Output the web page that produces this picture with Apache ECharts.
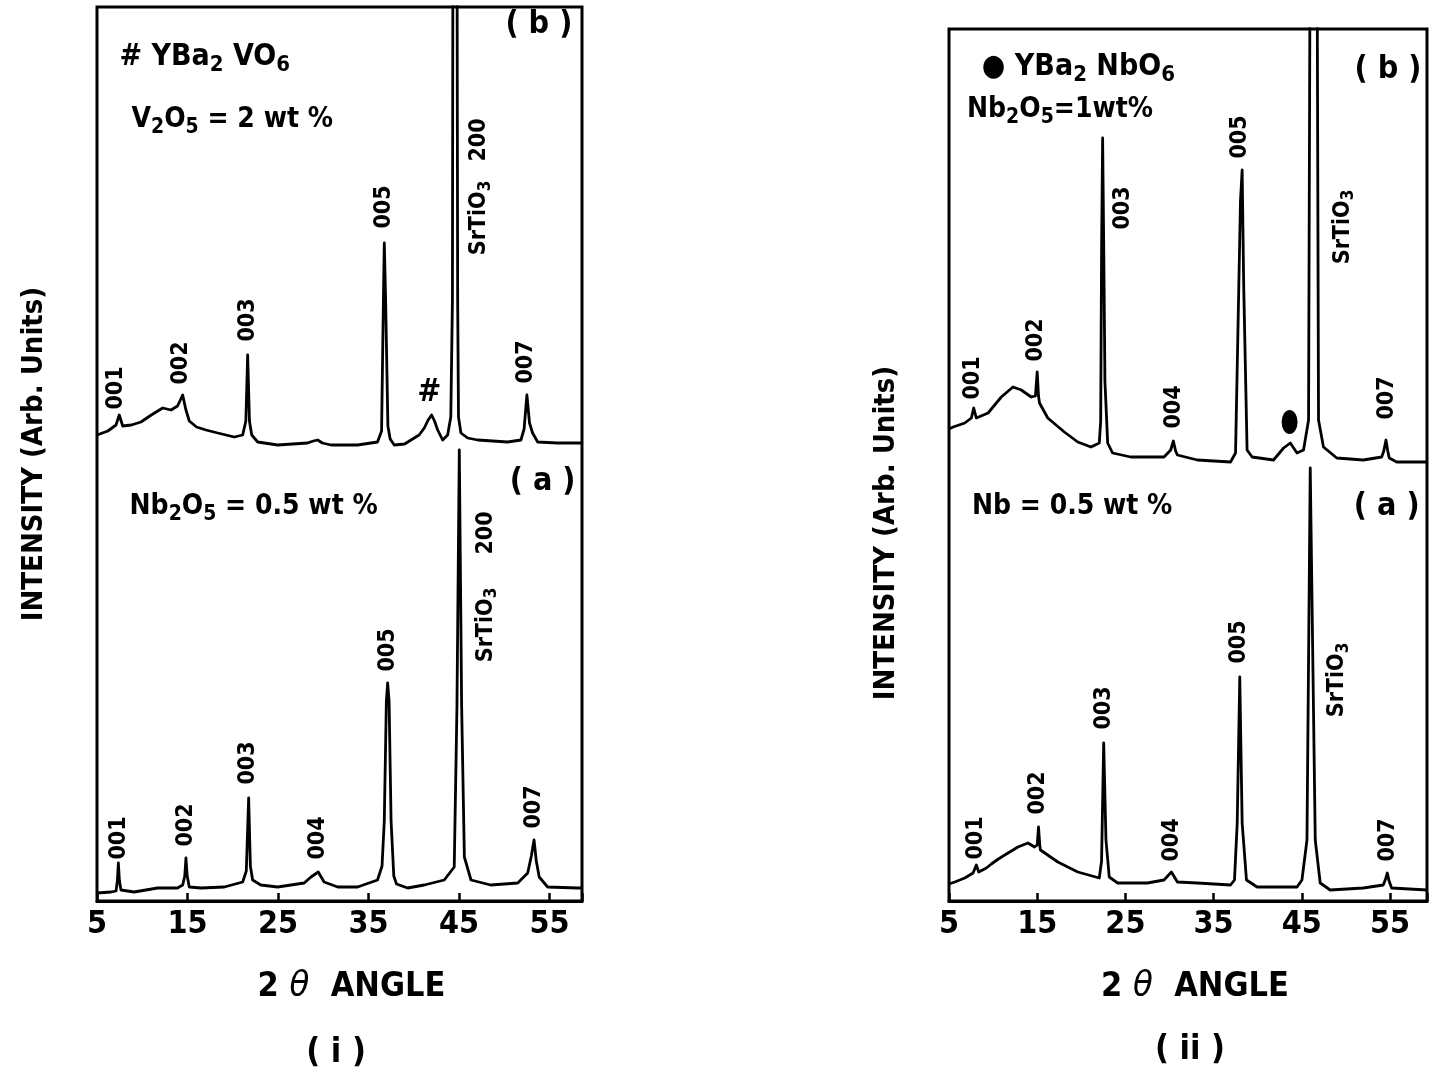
<!DOCTYPE html>
<html><head><meta charset="utf-8">
<script src="https://cdn.jsdelivr.net/npm/echarts@6/dist/echarts.min.js"></script>
<style>html,body{margin:0;padding:0;background:#fff}#c{width:1430px;height:1071px}</style>
</head><body><div id="c"></div>
<script>
const FONT = "'Liberation Sans Narrow','DejaVu Sans Condensed','Roboto Condensed','DejaVu Sans',sans-serif";

// ---------- axes ----------
const xTickValues = [5, 15, 25, 35, 45, 55];
const leftXRange = [5, 58.6];
const rightXRange = [5, 59.2];
const leftYMax = 894;
const rightYMax = 872;

// ---------- panel (i): trace (b) V2O5 = 2 wt % (offset upward) ----------
const leftTraceB = [
  [5.0,466],[6.2,470],[7.1,476],[7.46,486],[7.84,475],[8.8,476],[9.86,479],[11.0,486],[12.26,493],
  [13.18,491],[13.9,495],[14.47,506],[14.8,492],[15.2,480],[16.0,474],[17.04,471],[18.34,468],
  [20.17,464],[21.1,466],[21.45,480],[21.65,546],[21.85,480],[22.1,466],[22.76,459],[24.97,456],
  [28.28,458],[28.9,460],[29.39,461],[29.9,458],[30.86,456],[33.8,456],[36.0,459],[36.45,470],
  [36.65,600],[36.75,658],[36.9,600],[37.15,475],[37.4,462],[37.85,456],[39.0,457],[39.7,461],
  [40.6,466],[41.17,473],[41.6,481],[41.98,486],[42.3,480],[42.65,471],[43.2,461],[43.75,466],
  [44.1,484],[44.28,600],[44.34,1000],[44.78,1000],[44.86,600],[44.95,484],[45.22,468],[45.96,463],
  [47.07,461],[50.38,459],[51.85,461],[52.2,472],[52.51,506],[52.8,478],[53.14,468],[53.7,459],
  [55.9,458],[58.6,458]
];
// ---------- panel (i): trace (a) Nb2O5 = 0.5 wt % ----------
const leftTraceA = [
  [5.0,8],[6.55,9],[7.1,10],[7.25,20],[7.36,38],[7.48,20],[7.65,11],[9.1,9],[11.7,13],[13.9,13],
  [14.47,16],[14.7,25],[14.83,43],[14.97,25],[15.2,14],[16.5,13],[19.07,14],[21.1,19],[21.5,30],
  [21.76,103],[21.95,35],[22.2,21],[23.1,16],[24.97,14],[27.9,18],[28.65,24],[29.45,29],[30.1,19],
  [31.6,14],[33.8,14],[36.0,21],[36.5,35],[36.75,80],[36.98,200],[37.12,218],[37.28,200],[37.5,80],
  [37.8,25],[38.1,17],[39.33,13],[41.17,16],[43.38,21],[44.48,34],[44.78,194],[45.04,451],[45.3,194],
  [45.6,44],[46.33,21],[48.5,16],[51.5,18],[52.6,28],[53.0,45],[53.3,61],[53.55,40],[53.87,24],
  [54.8,14],[58.1,13],[58.6,13]
];

// ---------- panel (ii): trace (b) Nb2O5 = 1 wt % ----------
const rightTraceB = [
  [5.0,472],[5.47,474],[6.79,478],[7.54,483],[7.8,493],[8.1,483],[9.43,488],[10.93,504],[12.25,514],
  [13.2,511],[14.32,504],[14.8,505],[15.0,529],[15.15,505],[15.26,498],[16.2,483],[18.08,469],
  [19.6,459],[21.1,454],[22.04,458],[22.2,480],[22.3,650],[22.42,763],[22.55,650],[22.68,520],
  [22.99,458],[23.55,448],[25.6,444],[29.38,444],[30.14,451],[30.44,460],[30.7,450],[30.9,446],
  [33.16,441],[36.92,439],[37.49,448],[37.86,614],[38.05,700],[38.24,731],[38.42,614],[38.8,451],
  [39.37,444],[41.8,441],[42.94,453],[43.7,458],[44.46,448],[45.2,451],[45.77,481],[45.96,1000],
  [46.72,1000],[46.9,481],[47.46,454],[48.97,443],[51.98,441],[54.06,444],[54.3,450],[54.55,461],
  [54.75,450],[54.92,443],[55.76,439],[59.2,439]
];
// ---------- panel (ii): trace (a) Nb = 0.5 wt % ----------
const rightTraceA = [
  [5.0,17],[5.66,19],[6.79,23],[7.73,28],[8.1,36],[8.37,29],[9.24,33],[9.8,37],[10.6,42],[11.69,48],
  [12.82,54],[13.95,58],[14.7,54],[15.0,56],[15.15,74],[15.3,55],[15.37,51],[17.34,39],[19.6,29],
  [22.04,23],[22.3,40],[22.54,158],[22.8,61],[23.17,24],[24.12,18],[27.5,18],[29.38,21],[30.22,29],
  [30.9,19],[33.16,18],[36.92,16],[37.37,21],[37.68,78],[37.97,224],[38.24,78],[38.73,21],[39.94,14],
  [44.46,14],[45.02,21],[45.59,61],[45.96,433],[46.53,61],[47.09,18],[48.22,11],[51.98,13],
  [54.24,16],[54.5,22],[54.7,28],[54.9,20],[55.19,13],[59.2,11]
];

// ---------- annotations: [text, 2theta, intensity] ----------
const leftPeakLabels = [
  ['001',7.1,513],['002',14.28,538],['003',21.65,581],['005',36.75,694],['200',47.24,761],
  ['SrTiO_3',47.24,683],['007',52.4,539],
  ['001',7.46,63],['002',14.83,76],['003',21.65,138],['004',29.39,63],['005',37.12,251],
  ['200',47.98,368],['SrTiO_3',47.98,276],['007',53.32,94]
];
const leftCenterTexts = [['#',41.72,508],['( b )',53.84,876],['( a )',54.25,419]];
const leftHeadTexts = [['# YBa_2 VO_6',7.43,844]];
const leftFormulaTexts = [['V_2O_5 = 2 wt %',8.76,781],['Nb_2O_5 = 0.5 wt %',8.54,394]];

const rightPeakLabels = [
  ['001',7.73,523],['002',14.89,561],['003',24.68,693],['004',30.51,494],['005',38.05,764],
  ['SrTiO_3',49.66,674],['007',54.63,503],
  ['001',8.1,63],['002',15.08,108],['003',22.6,193],['004',30.33,61],['005',37.86,259],
  ['SrTiO_3',49.05,221],['007',54.8,61]
];
const rightCenterTexts = [['( b )',54.77,831],['( a )',54.63,394]];
const rightHeadTexts = [['● YBa_2 NbO_6',8.67,834]];
const rightFormulaTexts = [['Nb_2O_5=1wt%',6.98,791],['Nb = 0.5 wt %',7.54,394]];
const rightPhaseMarker = [[43.62,479]];

// ---------- helpers ----------
function rich(t){ return '{m|' + t.replace(/_(\d)/g, '}{s|$1}{m|') + '}'; }
function richStyles(main, sub, drop){
  return {
    m:{fontSize:main, fontWeight:'bold', fontFamily:FONT, color:'#000'},
    s:{fontSize:sub, fontWeight:'bold', fontFamily:FONT, color:'#000', padding:[drop,0,0,0]}
  };
}
function labelSeries(arr, axis, opts){
  return {
    type:'scatter', xAxisIndex:axis, yAxisIndex:axis, silent:true, z:5,
    symbolSize:1, itemStyle:{color:'rgba(255,255,255,0)', opacity:1},
    data: arr.map(a => ({value:[a[1], a[2]], name:a[0]})),
    label: Object.assign({show:true, color:'#000', opacity:1, textBorderWidth:0, formatter: p => rich(p.name)}, opts)
  };
}
function traceSeries(data, axis){
  return {
    type:'line', xAxisIndex:axis, yAxisIndex:axis, data:data, showSymbol:false, symbol:'none',
    smooth:false, silent:true, clip:true,
    lineStyle:{color:'#000', width:2.8, join:'round'}
  };
}
function xAxisCfg(idx, range){
  return {
    gridIndex:idx, type:'value', min:range[0], max:range[1], interval:10,
    axisLine:{show:true, lineStyle:{color:'#000', width:3}},
    axisTick:{show:true, inside:true, length:8, lineStyle:{color:'#000', width:2.5}},
    axisLabel:{show:true, color:'#000', fontSize:32, fontWeight:'bold', fontFamily:FONT, margin:8,
      formatter: v => xTickValues.includes(v) ? String(v) : ''},
    splitLine:{show:false},
    name:'{n|2 }{t|θ}{n|  ANGLE}', nameLocation:'middle', nameGap:68,
    nameTextStyle:{rich:{
      n:{fontSize:34, fontFamily:FONT, color:'#000', fontWeight:'bold'},
      t:{fontSize:36, fontFamily:FONT, color:'#000', fontStyle:'italic'}
    }, padding: idx === 0 ? [0,0,0,24] : [0,0,0,14]}
  };
}
function yAxisCfg(idx, max, pad){
  return {
    gridIndex:idx, type:'value', min:0, max:max,
    axisLine:{show:false}, axisTick:{show:false}, axisLabel:{show:false}, splitLine:{show:false},
    name:'INTENSITY (Arb. Units)', nameLocation:'middle', nameRotate:90, nameGap:48,
    nameTextStyle:{fontSize:29, fontFamily:FONT, color:'#000', fontWeight:'bold', padding:pad}
  };
}

const headRich = richStyles(30, 22, 16);
const formulaRich = richStyles(28, 21, 15);
const peakRich = richStyles(23, 17, 12);
const centerRich = richStyles(32, 22, 14);

const option = {
  backgroundColor:'#fff',
  animation:false,
  grid:[
    {left:97, top:7, width:485, height:894, show:true, borderColor:'#000', borderWidth:3, backgroundColor:'transparent'},
    {left:949, top:29, width:479, height:872, show:true, borderColor:'#000', borderWidth:3, backgroundColor:'transparent'}
  ],
  xAxis:[xAxisCfg(0, leftXRange), xAxisCfg(1, rightXRange)],
  yAxis:[yAxisCfg(0, leftYMax, [0,0,0,0]), yAxisCfg(1, rightYMax, [0,136,0,0])],
  graphic:[
    {type:'text', x:336, y:1053, style:{text:'( i )', fontSize:34, fontWeight:'bold', fontFamily:FONT, fill:'#000', align:'center', verticalAlign:'middle'}},
    {type:'text', x:1190, y:1050, style:{text:'( ii )', fontSize:34, fontWeight:'bold', fontFamily:FONT, fill:'#000', align:'center', verticalAlign:'middle'}}
  ],
  series:[
    traceSeries(leftTraceB, 0),
    traceSeries(leftTraceA, 0),
    traceSeries(rightTraceB, 1),
    traceSeries(rightTraceA, 1),
    labelSeries(leftPeakLabels, 0, {position:'inside', rotate:90, rich:peakRich}),
    labelSeries(rightPeakLabels, 1, {position:'inside', rotate:90, rich:peakRich}),
    labelSeries(leftCenterTexts, 0, {position:'inside', rich:centerRich}),
    labelSeries(rightCenterTexts, 1, {position:'inside', rich:centerRich}),
    labelSeries(leftHeadTexts, 0, {position:'right', distance:0, rich:headRich}),
    labelSeries(rightHeadTexts, 1, {position:'right', distance:0, rich:headRich}),
    labelSeries(leftFormulaTexts, 0, {position:'right', distance:0, rich:formulaRich}),
    labelSeries(rightFormulaTexts, 1, {position:'right', distance:0, rich:formulaRich}),
    {type:'scatter', xAxisIndex:1, yAxisIndex:1, silent:true, z:5, data:rightPhaseMarker,
     symbol:'circle', symbolSize:[16,24], itemStyle:{color:'#000', opacity:1}}
  ]
};
const chart = echarts.init(document.getElementById('c'), null, {renderer:'canvas'});
chart.setOption(option);
</script></body></html>
